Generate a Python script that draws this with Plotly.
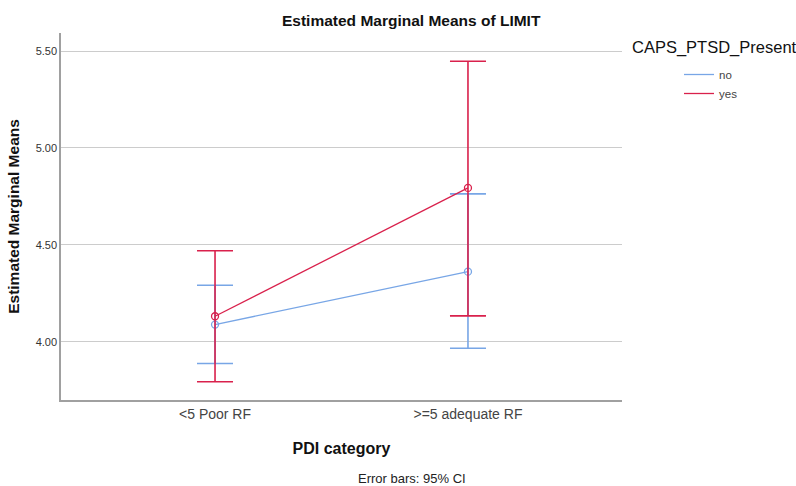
import plotly.graph_objects as go

categories = ["<5 Poor RF", ">=5 adequate RF"]
groups = ["no", "yes"]
no_mean = [4.089, 4.362]
no_low = [3.888, 3.967]
no_high = [4.292, 4.763]
yes_mean = [4.132, 4.794]
yes_low = [3.794, 4.134]
yes_high = [4.470, 5.447]
y_ticks = [4.0, 4.5, 5.0, 5.5]
y_tick_labels = ["4.00", "4.50", "5.00", "5.50"]

colors = {"no": "#78a6e6", "yes": "#d9214c"}
FONT = "Liberation Sans, Arial, sans-serif"

# plot area in px
L, R, T, B = 61, 622, 33, 400
W, H = 796, 486


def px(x):
    return (x - L) / (R - L)


def py(y):
    return (B - y) / (B - T)


fig = go.Figure()
for name, mean, lo, hi in [("no", no_mean, no_low, no_high), ("yes", yes_mean, yes_low, yes_high)]:
    fig.add_trace(go.Scatter(
        x=categories, y=mean, name=name, mode="lines+markers", showlegend=False,
        line=dict(color=colors[name], width=1.3),
        marker=dict(symbol="circle-open", size=7, color=colors[name], line=dict(width=1.3)),
        error_y=dict(type="data", symmetric=False,
                     array=[h - m for h, m in zip(hi, mean)],
                     arrayminus=[m - l for m, l in zip(mean, lo)],
                     color=colors[name], thickness=1.6, width=18),
    ))
# legend entries (line only, as in the reference)
for name in groups:
    fig.add_trace(go.Scatter(
        x=[None], y=[None], name=name, mode="lines",
        line=dict(color=colors[name], width=1.3), showlegend=True,
    ))

fig.update_layout(
    width=W, height=H,
    margin=dict(l=L, r=W - R, t=T, b=H - B),
    paper_bgcolor="white", plot_bgcolor="white",
    font=dict(family=FONT, color="#333333"),
    showlegend=True,
    legend=dict(
        font=dict(size=11.5, color="#444444"),
        x=px(679), xanchor="left", y=py(60), yanchor="top",
        bgcolor="rgba(0,0,0,0)", tracegroupgap=0, itemwidth=30,
    ),
    annotations=[
        dict(text="<b>Estimated Marginal Means of LIMIT</b>", xref="paper", yref="paper",
             x=px(411), y=py(20), xanchor="center", yanchor="middle",
             showarrow=False, font=dict(size=15.5, color="#111111", family=FONT)),
        dict(text="CAPS_PTSD_Present", xref="paper", yref="paper",
             x=px(630), y=py(47), xanchor="left", yanchor="middle",
             showarrow=False, font=dict(size=16.5, color="#111111", family=FONT)),
        dict(text="Error bars: 95% CI", xref="paper", yref="paper",
             x=px(412), y=py(478), xanchor="center", yanchor="middle",
             showarrow=False, font=dict(size=13, color="#222222", family=FONT)),
    ],
)

fig.update_xaxes(
    type="category", range=[-0.609, 1.609],
    showline=True, linecolor="#a0a0a0", linewidth=1.5,
    showgrid=False, ticks="", zeroline=False,
    tickfont=dict(size=14, color="#444444"),
    title=dict(text="<b>PDI category</b>", font=dict(size=16, color="#111111"), standoff=22),
)
fig.update_yaxes(
    range=[3.70, 5.593], tickvals=y_ticks, ticktext=y_tick_labels,
    showline=True, linecolor="#a0a0a0", linewidth=1.5,
    showgrid=True, gridcolor="#cccccc", gridwidth=1.2, zeroline=False, ticks="",
    tickfont=dict(size=11, color="#333333"),
    title=dict(text="<b>Estimated Marginal Means</b>", font=dict(size=15.5, color="#111111"), standoff=12),
)

fig.write_html("out.html")
